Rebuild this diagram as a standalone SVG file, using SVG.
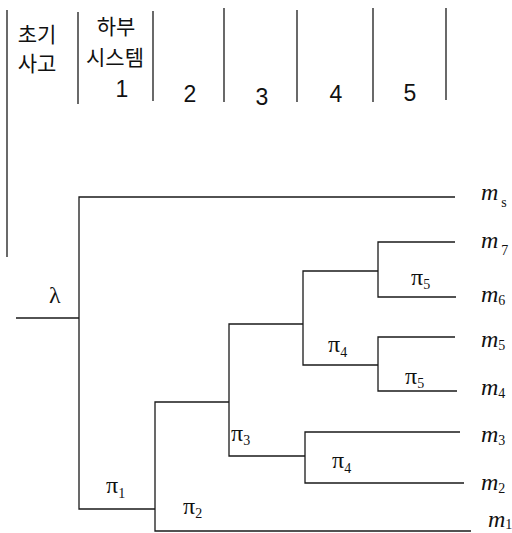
<svg xmlns="http://www.w3.org/2000/svg" width="512" height="533" viewBox="0 0 512 533">
<style>
.ln{fill:none;stroke:#1a1a1a;stroke-width:1.3}
.hd{font-family:"Liberation Sans","Noto Sans CJK KR",sans-serif;font-size:21px;fill:#111;text-anchor:middle}
.num{font-family:"Liberation Sans",sans-serif;font-size:23px;fill:#111;text-anchor:middle}
.gr{font-family:"Liberation Serif",serif;font-size:24px;fill:#111}
.m{font-family:"Liberation Serif",serif;font-style:italic;font-size:24px;fill:#111}
.sb{font-size:14px;font-style:normal}
</style>
<rect width="512" height="533" fill="#fff"/>
<g id="header-lines" class="ln">
<path d="M7,10V257"/>
<path d="M78,12V104"/>
<path d="M153,11V101"/>
<path d="M224,8V102"/>
<path d="M297,10V102"/>
<path d="M373,8V102"/>
<path d="M446,8V100"/>
</g>
<g id="header-initial"><text class="hd" x="37" y="42">초기</text><text class="hd" x="37" y="71">사고</text></g>
<g id="header-sub1"><text class="hd" x="116" y="34">하부</text><text class="hd" x="115" y="65">시스템</text><text class="num" x="122" y="97">1</text></g>
<g id="header-2"><text class="num" x="190" y="102">2</text></g>
<g id="header-3"><text class="num" x="262" y="105">3</text></g>
<g id="header-4"><text class="num" x="336" y="102">4</text></g>
<g id="header-5"><text class="num" x="410" y="101">5</text></g>
<g id="connectors" class="ln">
<path d="M16,318H79"/>
<path d="M455,197H79V509H155"/>
<path d="M229,402H155V531H471"/>
<path d="M303,324H229V456H305"/>
<path d="M460,432H305V483H464"/>
<path d="M378,271H303V365H378"/>
<path d="M455,242H378V297H456"/>
<path d="M455,337H378V391H457"/>
</g>
<g id="branch-labels" class="gr">
<text x="49" y="303" font-size="24">λ</text>
<text x="106" y="493">π<tspan class="sb" dy="5">1</tspan></text>
<text x="183" y="514">π<tspan class="sb" dy="4">2</tspan></text>
<text x="231" y="441">π<tspan class="sb" dy="4">3</tspan></text>
<text x="332" y="468">π<tspan class="sb" dy="5">4</tspan></text>
<text x="328" y="352">π<tspan class="sb" dy="5">4</tspan></text>
<text x="411" y="285">π<tspan class="sb" dy="4">5</tspan></text>
<text x="405" y="384">π<tspan class="sb" dy="4">5</tspan></text>
</g>
<g id="outcomes" class="m">
<text x="481" y="200">m<tspan class="sb" dy="7" dx="3" font-size="12">s</tspan></text>
<text x="481" y="248">m<tspan class="sb" dy="7" dx="3" font-size="10">7</tspan></text>
<text x="481" y="302">m<tspan class="sb" dy="3">6</tspan></text>
<text x="481" y="347">m<tspan class="sb" dy="3">5</tspan></text>
<text x="481" y="395">m<tspan class="sb" dy="3">4</tspan></text>
<text x="481" y="442">m<tspan class="sb" dy="3">3</tspan></text>
<text x="481" y="490">m<tspan class="sb" dy="3">2</tspan></text>
<text x="488" y="527">m<tspan class="sb" dy="2">1</tspan></text>
</g>
</svg>
